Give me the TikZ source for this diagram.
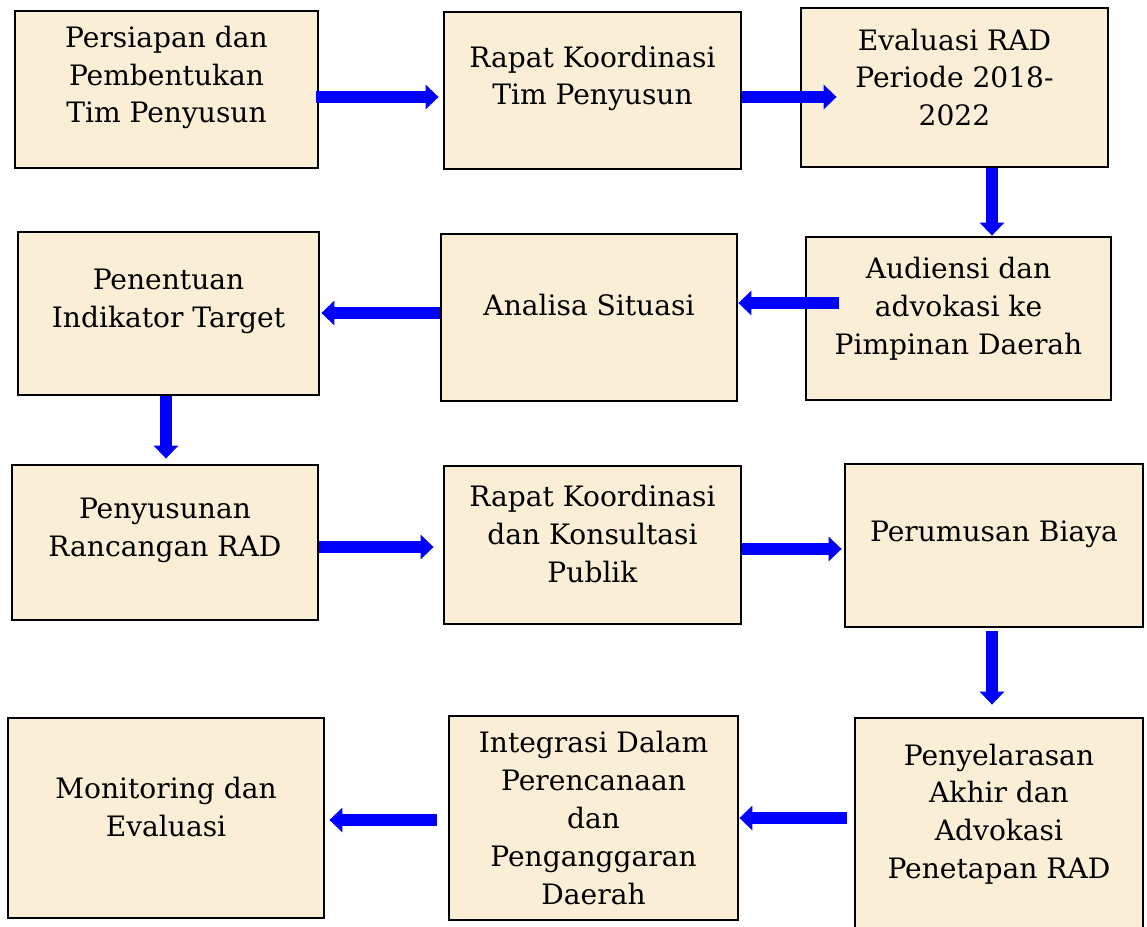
\documentclass[tikz,border=0pt]{standalone}
\usepackage{fontspec}
\setmainfont{DejaVu Serif}
\usepackage{xcolor}
\usepackage{tikz}
\usetikzlibrary{arrows.meta}
\usetikzlibrary{calc}
\definecolor{parchment}{RGB}{250,239,214}
\tikzstyle{stage}=[rectangle,draw=black,line width=1.6pt,fill=parchment,inner sep=0pt]
\tikzstyle{flow} = [draw,blue,line width=6.4pt,-{Triangle[width=0.48cm,length=0.26cm]}]
\tikzset{lbl/.style={align=center,font=\fontsize{16}{21.5}\selectfont,text=black}}

\begin{document}
\begin{tikzpicture}[x=0.02cm,y=-0.02cm]

  \clip (0,0) rectangle (1147,927);
  \def\u{0.02cm};

   \foreach \x/\y/\w/\h/\dy/\name/\txt in {
        166.5/89.5/303/157/12/p1/{Persiapan dan\\Pembentukan\\Tim Penyusun},
        592.5/90.5/297/157/12/p2/{Rapat Koordinasi\\Tim Penyusun},
        954.5/87.5/307/159/10/p3/{Evaluasi RAD\\Periode 2018-\\2022},
        958.5/318.5/305/163/10/p4/{Audiensi dan\\advokasi ke\\Pimpinan Daerah},
        589/317.5/296/167/12/p5/{Analisa Situasi},
        168.5/313.5/301/163/12/p6/{Penentuan\\Indikator Target},
        165/542.5/306/155/12/p7/{Penyusunan\\Rancangan RAD},
        592.5/545/297/158/11/p8/{Rapat Koordinasi\\dan Konsultasi\\Publik},
        994/545.5/298/163/11/p9/{Perumusan Biaya},
        999/825/288/214/11/p10/{Penyelarasan\\Akhir dan\\Advokasi\\Penetapan RAD},
        593.5/818/289/204/0/p11/{Integrasi Dalam\\Perencanaan\\dan\\Penganggaran\\Daerah},
        166/818/316/200/11/p12/{Monitoring dan\\Evaluasi}}
          \node[stage,minimum width=\w*\u,minimum height=\h*\u,
                label={[lbl,yshift=\dy*\u]center:{\txt}}] (\name) at (\x,\y) {};

  % horizontal steps
  \foreach \source/\dest/\y/\a/\b in {p1.east/p2.west/97/-3/-4, p2.east/p3.west/97/0/37,
        p4.west/p5.east/303/34/0, p5.west/p6.east/313/0/1,
        p7.east/p8.west/547/0/-9, p8.east/p9.west/549/0/-2,
        p10.west/p11.east/818/-7/0, p11.west/p12.east/820/-11/4}
         \path[flow] ($(\source |- 0,\y)+(\a,0)$) -- ($(\dest |- 0,\y)+(\b,0)$);

  % vertical steps
  \foreach \source/\dest/\x/\a/\b in {p3.south/p4.north/992/0/0,
        p6.south/p7.north/166/0/-5, p9.south/p10.north/992/3/-12}
         \path[flow] ($(\source -| \x,0)+(0,\a)$) -- ($(\dest -| \x,0)+(0,\b)$);

\end{tikzpicture}
\end{document}
